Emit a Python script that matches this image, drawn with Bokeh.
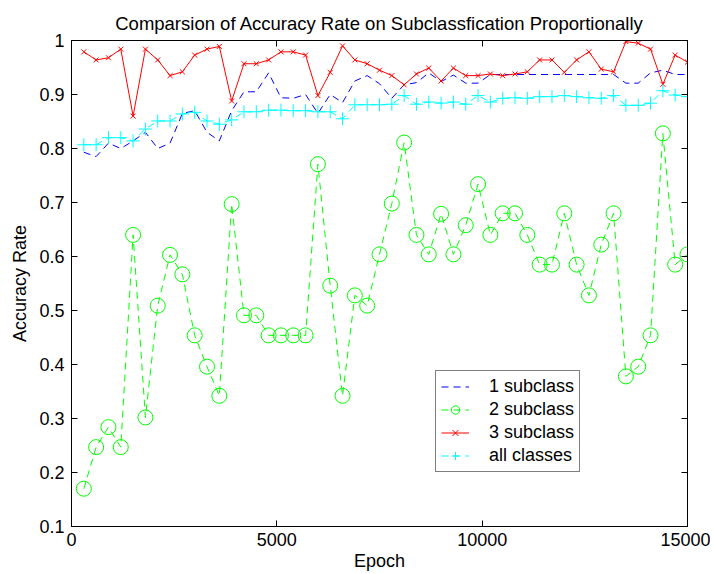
from bokeh.plotting import figure
from bokeh.models import LinearAxis, FixedTicker, Legend, Range1d
from bokeh.embed import file_html
from bokeh.resources import INLINE

epochs = list(range(300, 15300, 300))

sub1 = [0.793, 0.785, 0.810, 0.800, 0.814, 0.830, 0.800, 0.810, 0.865, 0.870,
        0.830, 0.814, 0.870, 0.905, 0.905, 0.940, 0.894, 0.893, 0.900, 0.865,
        0.900, 0.885, 0.925, 0.935, 0.920, 0.893, 0.918, 0.922, 0.940, 0.924,
        0.936, 0.921, 0.921, 0.937, 0.937, 0.937, 0.937, 0.937, 0.937, 0.937,
        0.937, 0.937, 0.937, 0.937, 0.921, 0.921, 0.940, 0.945, 0.937, 0.937]

sub2 = [0.170, 0.247, 0.284, 0.247, 0.640, 0.302, 0.509, 0.603, 0.567, 0.454,
        0.396, 0.342, 0.697, 0.491, 0.491, 0.454, 0.454, 0.454, 0.454, 0.771,
        0.546, 0.342, 0.528, 0.509, 0.604, 0.698, 0.811, 0.640, 0.604, 0.679,
        0.604, 0.658, 0.734, 0.640, 0.680, 0.680, 0.640, 0.585, 0.585, 0.680,
        0.585, 0.528, 0.622, 0.680, 0.378, 0.396, 0.454, 0.828, 0.585, 0.604]

sub3 = [0.979, 0.964, 0.968, 0.984, 0.860, 0.984, 0.964, 0.935, 0.942, 0.973,
        0.984, 0.989, 0.888, 0.957, 0.957, 0.964, 0.979, 0.979, 0.973, 0.898,
        0.941, 0.990, 0.964, 0.957, 0.945, 0.935, 0.918, 0.938, 0.949, 0.925,
        0.949, 0.935, 0.935, 0.938, 0.935, 0.938, 0.942, 0.964, 0.964, 0.941,
        0.964, 0.979, 0.947, 0.942, 0.998, 0.995, 0.984, 0.919, 0.973, 0.960]

allc = [0.807, 0.807, 0.820, 0.820, 0.814, 0.836, 0.851, 0.851, 0.864, 0.867,
        0.851, 0.845, 0.853, 0.868, 0.868, 0.871, 0.871, 0.870, 0.870, 0.868,
        0.868, 0.855, 0.881, 0.881, 0.881, 0.882, 0.898, 0.882, 0.886, 0.884,
        0.886, 0.882, 0.898, 0.886, 0.893, 0.894, 0.893, 0.896, 0.896, 0.898,
        0.896, 0.894, 0.893, 0.898, 0.880, 0.880, 0.884, 0.907, 0.899, 0.896]

x_ticks = [0, 5000, 10000, 15000]
y_ticks = [0.1, 0.2, 0.3, 0.4, 0.5, 0.6, 0.7, 0.8, 0.9, 1.0]
y_tick_labels = {0.1: "0.1", 0.2: "0.2", 0.3: "0.3", 0.4: "0.4", 0.5: "0.5",
                 0.6: "0.6", 0.7: "0.7", 0.8: "0.8", 0.9: "0.9", 1.0: "1"}

FONT = "Liberation Sans"
BLUE, GREEN, RED, CYAN = "#0000FF", "#00FF00", "#FF0000", "#00FFFF"

p = figure(width=710, height=574, output_backend="svg", toolbar_location=None,
           x_range=Range1d(0, 15000), y_range=Range1d(0.1, 1.0),
           title="Comparsion of Accuracy Rate on Subclassfication Proportionally",
           min_border_left=71, min_border_right=23, min_border_top=40, min_border_bottom=48)

p.title.align = "center"
p.title.text_font = FONT
p.title.text_font_size = "18.5px"
p.title.text_font_style = "normal"
p.title.text_color = "black"
p.title.standoff = 14

p.xgrid.visible = False
p.ygrid.visible = False
p.outline_line_color = "black"
p.outline_line_width = 1
p.background_fill_color = "white"
p.border_fill_color = "white"

p.xaxis.ticker = FixedTicker(ticks=x_ticks)
p.yaxis.ticker = FixedTicker(ticks=y_ticks)
p.yaxis.major_label_overrides = y_tick_labels
p.xaxis.axis_label = "Epoch"
p.yaxis.axis_label = "Accuracy Rate"
for ax in (p.xaxis[0], p.yaxis[0]):
    ax.major_tick_in = 6
    ax.major_tick_out = 0
    ax.minor_tick_line_color = None
    ax.axis_line_color = "black"
    ax.major_tick_line_color = "black"
    ax.major_label_text_font = FONT
    ax.major_label_text_font_size = "18px"
    ax.major_label_text_color = "black"
    ax.axis_label_text_font = FONT
    ax.axis_label_text_font_size = "18px"
    ax.axis_label_text_font_style = "normal"
    ax.axis_label_text_color = "black"
p.xaxis.major_label_standoff = 6
p.xaxis.axis_label_standoff = 2
p.yaxis.major_label_standoff = 7
p.yaxis.axis_label_standoff = 6

top_ax = LinearAxis(ticker=FixedTicker(ticks=x_ticks), major_tick_in=6, major_tick_out=0,
                    minor_tick_line_color=None, major_label_text_alpha=0,
                    major_label_text_font_size="1px", major_label_standoff=0)
right_ax = LinearAxis(ticker=FixedTicker(ticks=y_ticks), major_tick_in=6, major_tick_out=0,
                      minor_tick_line_color=None, major_label_text_alpha=0,
                      major_label_text_font_size="1px", major_label_standoff=0)
p.add_layout(top_ax, "above")
p.add_layout(right_ax, "right")

r1 = p.line(epochs, sub1, line_color=BLUE, line_width=1, line_dash="7 5")

r2l = p.line(epochs, sub2, line_color=GREEN, line_width=1, line_dash="7 5")
r2m = p.scatter(epochs, sub2, marker="circle", size=15, line_color=GREEN,
                fill_color=None, line_width=1)

r3l = p.line(epochs, sub3, line_color=RED, line_width=1)
r3m = p.scatter(epochs, sub3, marker="x", size=7, line_color=RED, line_width=1)

r4l = p.line(epochs, allc, line_color=CYAN, line_width=1, line_dash="7 5")
r4m = p.scatter(epochs, allc, marker="cross", size=13, line_color=CYAN, line_width=1)

legend = Legend(items=[("1 subclass", [r1]), ("2 subclass", [r2l, r2m]),
                       ("3 subclass", [r3l, r3m]), ("all classes", [r4l, r4m])],
                location=(364, 54))
legend.label_text_font = FONT
legend.label_text_font_size = "18px"
legend.label_text_color = "black"
legend.border_line_color = "black"
legend.border_line_width = 1
legend.background_fill_color = "white"
legend.background_fill_alpha = 1
legend.glyph_width = 28
legend.glyph_height = 21
legend.label_height = 21
legend.spacing = 2
legend.padding = 5
legend.margin = 0
legend.label_standoff = 20
p.add_layout(legend, "center")

open("out.html", "w").write(file_html(p, INLINE))
